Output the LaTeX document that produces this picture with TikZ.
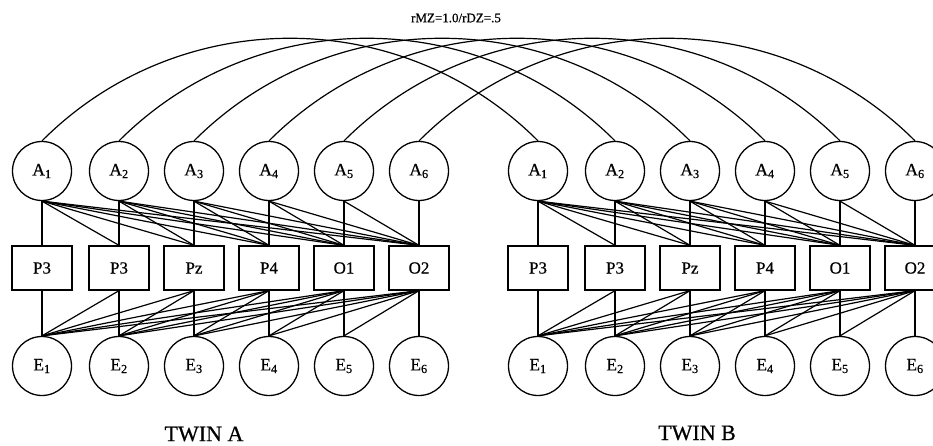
\documentclass[tikz,border=0pt]{standalone}
\usepackage{fontspec}
\setmainfont{Liberation Serif}
\newfontfamily\heavyfont[FakeBold=0.6]{Liberation Serif}
\begin{document}
\begin{tikzpicture}[x=1pt,y=-1pt, line width=1.3pt,
  latent/.style={circle, draw, minimum size=59pt, inner sep=0pt, font=\heavyfont\fontsize{17.5}{20}\selectfont},
  obs/.style={rectangle, draw, minimum width=60pt, minimum height=44pt, inner sep=0pt, font=\heavyfont\fontsize{17}{20}\selectfont},
  link/.style={line width=1.2pt},
  twin/.style={font=\heavyfont\fontsize{22}{26}\selectfont},
  corr/.style={font=\heavyfont\fontsize{13}{15}\selectfont}]
\useasboundingbox (0,0) rectangle (933,446);
\foreach \i/\x/\t in {1/42/P3,2/119/P3,3/194/Pz,4/269/P4,5/344/O1,6/419/O2} {
  \node[latent] (aA\i) at (\x,171) {A\textsubscript{\i}};
  \node[obs]    (pA\i) at (\x,268) {\t};
  \node[latent] (eA\i) at (\x,366) {E\textsubscript{\i}};
  \node[latent] (aB\i) at (\x+496,171) {A\textsubscript{\i}};
  \node[obs]    (pB\i) at (\x+496,268) {\t};
  \node[latent] (eB\i) at (\x+496,366) {E\textsubscript{\i}};
}
\foreach \i in {1,...,6} {
  \foreach \j in {\i,...,6} {
    \draw[link] (aA\i.south) -- (pA\j.north);
    \draw[link] (aB\i.south) -- (pB\j.north);
    \draw[link] (pA\j.south) -- (eA\i.north);
    \draw[link] (pB\j.south) -- (eB\i.north);
  }
}
\foreach \i in {1,...,6} {
  \draw[link] (aA\i.north) to[bend left=45] (aB\i.north);
}
\node[corr] (title) at (456,18) {rMZ=1.0/rDZ=.5};
\node[twin] (twinA) at (204,434) {TWIN A};
\node[twin] (twinB) at (697,433) {TWIN B};
\end{tikzpicture}
\end{document}
